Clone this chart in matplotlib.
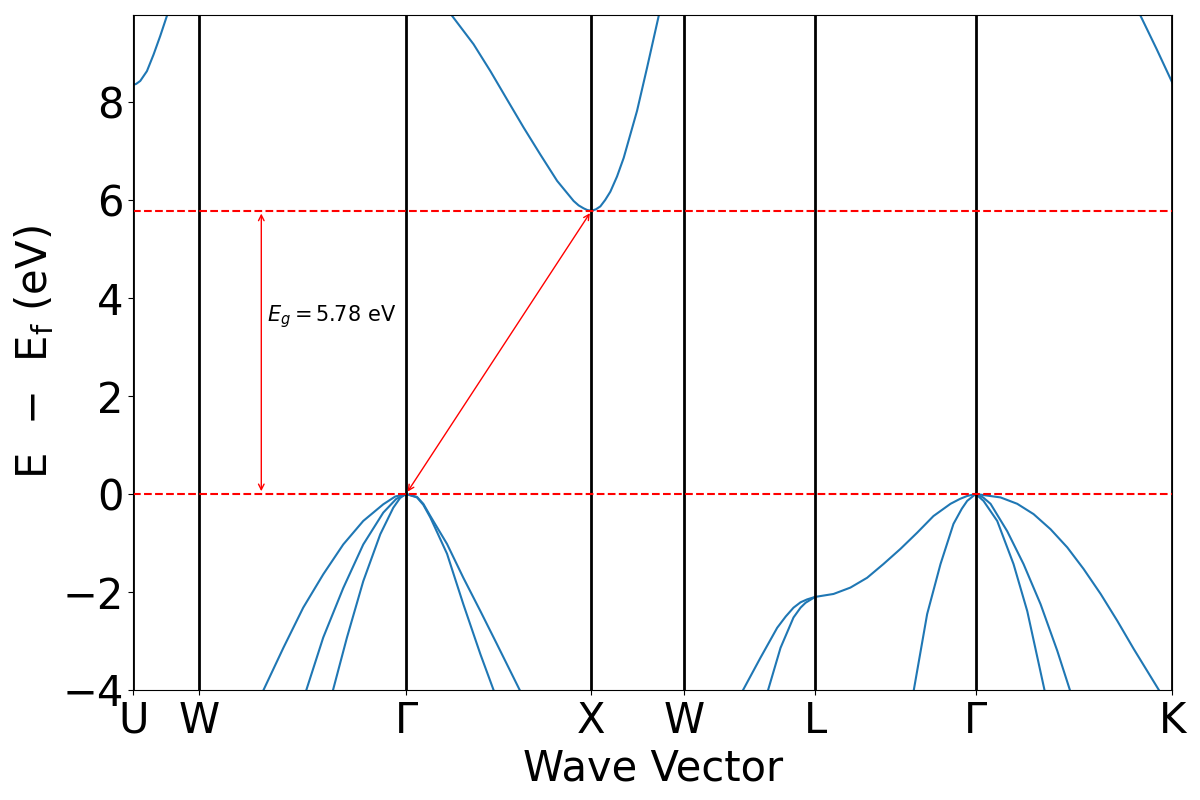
import numpy as np
import matplotlib
matplotlib.use("Agg")
import matplotlib.pyplot as plt

# high symmetry points along the k-path
kpt_pos = [0.0, 0.354, 1.472, 2.472, 2.972, 3.679, 4.545, 5.606]
kpt_labels = ["U", "W", r"$\Gamma$", "X", "W", "L", r"$\Gamma$", "K"]

gap = 5.78
vbm_k = 1.472
cbm_k = 2.472

# conduction band pieces (k, E)
cb_u_k = [0.0, 0.016, 0.038, 0.074, 0.110, 0.146, 0.182, 0.210]
cb_u_e = [8.35, 8.37, 8.43, 8.63, 8.97, 9.35, 9.76, 10.09]

cb_x_k = [1.657, 1.720, 1.836, 1.927, 2.017, 2.106, 2.196, 2.287, 2.376, 2.403,
          2.430, 2.450, 2.472, 2.496, 2.520, 2.546, 2.574, 2.610, 2.646, 2.718,
          2.772, 2.835, 2.860]
cb_x_e = [10.08, 9.76, 9.18, 8.63, 8.05, 7.48, 6.93, 6.39, 5.98, 5.89,
          5.83, 5.795, 5.78, 5.81, 5.87, 6.00, 6.17, 6.48, 6.86, 7.82,
          8.70, 9.76, 10.4]

cb_k_k = [5.380, 5.434, 5.521, 5.606]
cb_k_e = [10.2, 9.76, 9.08, 8.39]

# valence bands around first Gamma
vb1a_k = [0.703, 0.810, 0.917, 1.025, 1.133, 1.241, 1.349, 1.414, 1.472]
vb1a_e = [-4.0, -3.14, -2.32, -1.64, -1.03, -0.55, -0.21, -0.05, 0.0]
vb1b_k = [0.934, 1.025, 1.133, 1.241, 1.349, 1.419, 1.472]
vb1b_e = [-4.0, -2.93, -1.92, -1.03, -0.38, -0.10, 0.0]
vb1c_k = [1.078, 1.153, 1.241, 1.333, 1.403, 1.440, 1.472]
vb1c_e = [-4.0, -2.93, -1.78, -0.82, -0.28, -0.08, 0.0]
vb1d_k = [1.472, 1.531, 1.565, 1.603, 1.693, 1.781, 1.873, 1.944]
vb1d_e = [0.0, -0.07, -0.22, -0.48, -1.22, -2.25, -3.27, -4.0]
vb1e_k = [1.472, 1.531, 1.565, 1.603, 1.693, 1.781, 1.873, 1.963, 2.085]
vb1e_e = [0.0, -0.06, -0.20, -0.45, -1.02, -1.71, -2.39, -3.07, -4.0]

# valence bands around L and second Gamma
vb2a_k = [3.290, 3.384, 3.474, 3.520, 3.562, 3.600, 3.636, 3.679, 3.778, 3.869,
          3.959, 4.047, 4.139, 4.229, 4.317, 4.409, 4.460, 4.499, 4.545]
vb2a_e = [-4.0, -3.34, -2.73, -2.50, -2.32, -2.21, -2.15, -2.10, -2.04, -1.91,
          -1.71, -1.43, -1.12, -0.79, -0.45, -0.20, -0.10, -0.04, 0.0]
vb2b_k = [3.425, 3.492, 3.562, 3.600, 3.627, 3.679]
vb2b_e = [-4.0, -3.14, -2.52, -2.32, -2.22, -2.10]
vb2c_k = [4.211, 4.283, 4.355, 4.425, 4.470, 4.499, 4.545]
vb2c_e = [-4.0, -2.45, -1.43, -0.61, -0.30, -0.14, 0.0]
vb2d_k = [4.545, 4.679, 4.769, 4.857, 4.949, 5.039, 5.127, 5.219, 5.309, 5.397, 5.533]
vb2d_e = [0.0, -0.07, -0.20, -0.41, -0.72, -1.09, -1.53, -2.04, -2.59, -3.16, -4.0]
vb2e_k = [4.545, 4.585, 4.625, 4.715, 4.803, 4.895, 4.985, 5.053]
vb2e_e = [0.0, -0.07, -0.20, -0.76, -1.43, -2.25, -3.20, -4.0]
vb2f_k = [4.545, 4.587, 4.661, 4.749, 4.823, 4.916]
vb2f_e = [0.0, -0.14, -0.55, -1.43, -2.39, -4.0]

bands = [
    (cb_u_k, cb_u_e), (cb_x_k, cb_x_e), (cb_k_k, cb_k_e),
    (vb1a_k, vb1a_e), (vb1b_k, vb1b_e), (vb1c_k, vb1c_e),
    (vb1d_k, vb1d_e), (vb1e_k, vb1e_e),
    (vb2a_k, vb2a_e), (vb2b_k, vb2b_e), (vb2c_k, vb2c_e),
    (vb2d_k, vb2d_e), (vb2e_k, vb2e_e), (vb2f_k, vb2f_e),
]

fig = plt.figure(figsize=(12, 8), dpi=100)
ax = fig.add_axes([0.111, 0.1375, 0.866, 0.844])

for k, e in bands:
    ax.plot(k, e, color="#1f77b4", lw=1.5)

for p in kpt_pos:
    ax.axvline(p, color="black", lw=2)

ax.axhline(0, color="red", ls="--", lw=1.5)
ax.axhline(gap, color="red", ls="--", lw=1.5)

# gap arrows
ax.annotate("", xy=(0.691, gap), xytext=(0.691, 0),
            arrowprops=dict(arrowstyle="<->", color="red", lw=1))
ax.annotate("", xy=(cbm_k, gap), xytext=(vbm_k, 0),
            arrowprops=dict(arrowstyle="<->", color="red", lw=1))
ax.text(0.72, 3.63, r"$E_g = $" + "5.78 eV", fontsize=15, va="center", ha="left")

ax.set_xlim(kpt_pos[0], kpt_pos[-1])
ax.set_ylim(-4, gap + 4)
ax.set_xticks(kpt_pos)
ax.set_xticklabels(kpt_labels)
ax.set_yticks([-4, -2, 0, 2, 4, 6, 8])
ax.tick_params(labelsize=30)
ax.set_xlabel("Wave Vector", fontsize=30)
ax.set_ylabel(r"E $\,-\,$ E$_\mathrm{f}$ (eV)", fontsize=30)

fig.savefig("out.png", dpi=100)
